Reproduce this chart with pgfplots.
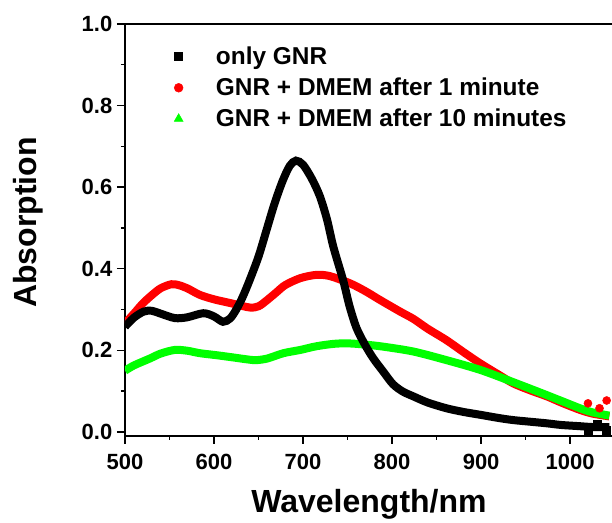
\documentclass[border=0pt]{standalone}
\usepackage{fontspec}
\setmainfont{Liberation Sans}
\usepackage{pgfplots}
\pgfplotsset{compat=1.18}
\definecolor{gnrred}{RGB}{255,0,0}
\definecolor{gnrgreen}{RGB}{0,255,0}

\pgfplotstableread{
x y
500 0.258
510 0.280
521 0.295
530 0.297
540 0.290
556 0.279
570 0.281
588 0.291
600 0.283
610 0.270
618 0.278
625 0.300
632 0.330
640 0.372
650 0.430
659 0.495
668 0.560
677 0.615
685 0.652
692 0.665
700 0.655
710 0.620
719 0.577
727 0.520
734 0.454
745 0.372
752 0.310
760 0.255
770 0.212
779 0.180
790 0.148
801 0.117
812 0.099
824 0.087
840 0.072
861 0.058
880 0.049
899 0.042
920 0.034
936 0.029
955 0.025
974 0.021
990 0.017
1011 0.014
1025 0.012
1044 0.012
}\gnr

\pgfplotstableread{
x y
500 0.266
510 0.290
520 0.315
530 0.335
540 0.352
552 0.362
560 0.360
570 0.352
584 0.336
600 0.325
620 0.315
640 0.305
650 0.308
659 0.322
670 0.342
680 0.360
697 0.377
715 0.385
730 0.382
753 0.364
770 0.345
786 0.324
809 0.295
824 0.277
840 0.253
861 0.225
880 0.196
899 0.168
920 0.140
936 0.119
955 0.102
974 0.087
990 0.072
1011 0.054
1025 0.045
1044 0.038
}\dmemone

\pgfplotstableread{
x y
500 0.150
510 0.163
528 0.180
540 0.192
556 0.201
570 0.199
584 0.193
603 0.188
620 0.183
640 0.177
648 0.176
660 0.180
678 0.193
697 0.201
715 0.210
735 0.216
751 0.217
770 0.214
790 0.209
824 0.197
861 0.176
899 0.152
936 0.122
974 0.090
1011 0.058
1025 0.048
1044 0.040
}\dmemten

\begin{document}
\begin{tikzpicture}
\begin{axis}[
  name=ax,
  scale only axis,
  width=365.25pt, height=309pt,
  xmin=500, xmax=1047, ymin=-0.01, ymax=1.0,
  axis x line=box, axis y line=left,
  axis line style={line width=1pt, -},
  xtick={500,600,...,1000}, ytick={0,0.2,...,1.0},
  minor x tick num=1, minor y tick num=1,
  xtick pos=bottom, ytick pos=left,
  tick align=outside,
  major tick length=6pt, minor tick length=3pt,
  tick style={line width=1pt, black},
  /pgf/number format/assume math mode=true,
  /pgf/number format/set thousands separator={},
  yticklabel style={/pgf/number format/.cd, fixed, fixed zerofill, precision=1},
  tick label style={font=\fontsize{16.5}{18}\selectfont\bfseries},
  xticklabel style={yshift=-4pt},
  xlabel={Wavelength/nm}, ylabel={Absorption},
  every axis x label/.style={at={(axis description cs:0.501,0)}, yshift=-57.75pt, anchor=base, font=\fontsize{24}{28}\selectfont\bfseries},
  every axis y label/.style={at={(axis description cs:0,0.518)}, xshift=-72.75pt, rotate=90, anchor=center, font=\fontsize{24}{28}\selectfont\bfseries},
  legend style={draw=none, fill=none, inner sep=0pt, at={(axis description cs:0,1)}, anchor=north west, xshift=36.75pt, yshift=-15pt, font=\fontsize{18.3}{21}\selectfont\bfseries, row sep=4.5pt},
  legend cell align=left,
  legend image code/.code={\path[draw=none, fill=none] (0pt,0pt) -- (26pt,0pt); \path[#1] plot coordinates {(0pt,0pt)};},
]
\addlegendimage{only marks, mark=square*, black, mark size=3pt}
\addlegendentry{only GNR}
\addlegendimage{only marks, mark=*, gnrred, mark size=3.3pt}
\addlegendentry{GNR + DMEM after 1 minute}
\addlegendimage{only marks, mark=triangle*, gnrgreen, mark size=3.8pt}
\addlegendentry{GNR + DMEM after 10 minutes}
\addplot[gnrred, line width=6pt, smooth, forget plot] table {\dmemone};
\addplot[gnrred, only marks, mark=*, mark size=3pt, forget plot] coordinates {(1020,0.070) (1041,0.077) (1033,0.058)};
\addplot[gnrgreen, line width=6pt, smooth, forget plot] table {\dmemten};
\addplot[black, line width=6pt, smooth, forget plot] table {\gnr};
\addplot[black, only marks, mark=square*, mark size=3pt, forget plot] coordinates {(1020,0.005) (1030,0.018) (1040,0.004)};
\end{axis}
\pgfresetboundingbox
\path ([xshift=-93.75pt,yshift=-65.25pt]ax.south west) rectangle ([yshift=18pt]ax.north east);
\end{tikzpicture}
\end{document}
